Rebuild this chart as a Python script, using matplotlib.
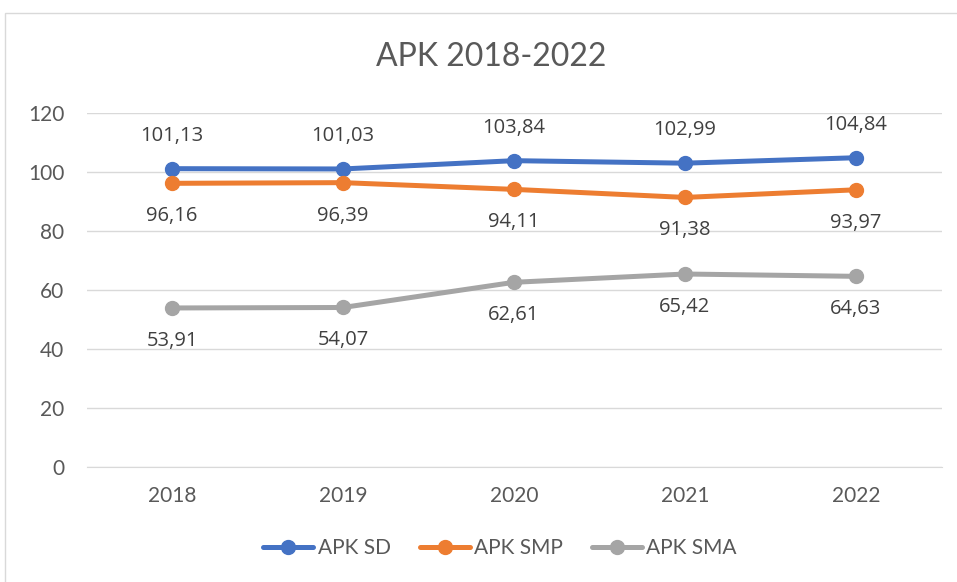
import matplotlib
matplotlib.use("Agg")
import matplotlib.pyplot as plt
from matplotlib.patches import Rectangle
from matplotlib import font_manager

years = ["2018", "2019", "2020", "2021", "2022"]
apk_sd = [101.13, 101.03, 103.84, 102.99, 104.84]
apk_smp = [96.16, 96.39, 94.11, 91.38, 93.97]
apk_sma = [53.91, 54.07, 62.61, 65.42, 64.63]
series_names = ["APK SD", "APK SMP", "APK SMA"]
colors = ["#4472C4", "#ED7D31", "#A5A5A5"]

names = {f.name for f in font_manager.fontManager.ttflist}
label_font = "Open Sans" if "Open Sans" in names else "DejaVu Sans"
tick_font = "Lato" if "Lato" in names else label_font

W, H = 957, 582
fig = plt.figure(figsize=(W / 100, H / 100), dpi=100)
fig.patches.append(Rectangle((5 / W, -0.1), 1.2, 1 - 13 / H + 0.1, transform=fig.transFigure,
                             fill=False, edgecolor="#D9D9D9", linewidth=1.0))

ax = fig.add_axes([86.5 / W, 1 - 467 / H, (941.5 - 86.5) / W, (467 - 113) / H])
x = list(range(len(years)))
txt = "#404040"
for vals, name, c, off in zip([apk_sd, apk_smp, apk_sma], series_names, colors, [1, -1, -1]):
    ax.plot(x, vals, color=c, linewidth=3.6, marker="o", markersize=10, label=name,
            solid_capstyle="round", zorder=3)
    for xi, v in zip(x, vals):
        ax.annotate(f"{v:.2f}".replace(".", ","), (xi, v), xytext=(0, 33 * off),
                    textcoords="offset pixels", ha="center", va="center",
                    fontsize=14.5, color=txt, family=label_font)

ax.set_xlim(-0.5, len(years) - 0.5)
ax.set_ylim(0, 120)
ax.set_yticks(range(0, 121, 20))
ax.set_xticks(x)
ax.set_xticklabels(years)
ax.grid(axis="y", color="#D9D9D9", linewidth=1.0)
ax.set_axisbelow(True)
for s in ["top", "right", "left"]:
    ax.spines[s].set_visible(False)
ax.spines["bottom"].set_color("#D9D9D9")
ax.tick_params(length=0, labelsize=15, colors="#595959", pad=14)
ax.tick_params(axis="y", pad=16)
for lab in ax.get_xticklabels() + ax.get_yticklabels():
    lab.set_family(tick_font)

fig.text(491 / W, 1 - 57 / H, "APK 2018-2022", ha="center", va="center", fontsize=23,
         color="#595959", family=tick_font)

leg = fig.legend(loc="center", bbox_to_anchor=(500 / W, 1 - 548 / H), ncol=3, frameon=False,
                 prop={"family": tick_font, "size": 15}, handlelength=2.4,
                 handletextpad=0.2, columnspacing=1.4)
for t in leg.get_texts():
    t.set_color("#595959")

fig.savefig("out.png", dpi=100)
